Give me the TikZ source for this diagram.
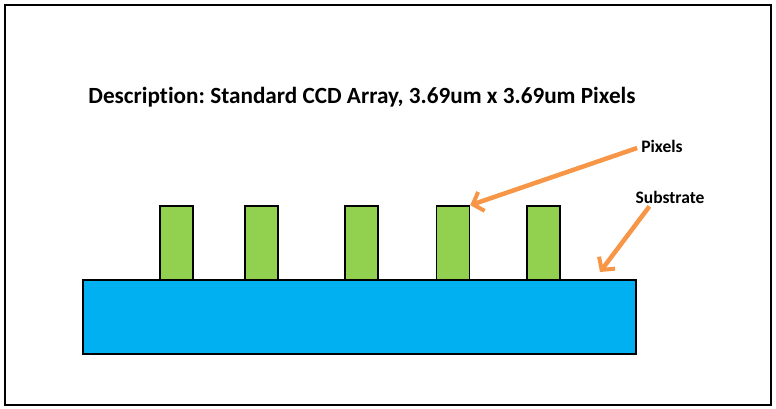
\documentclass[tikz,border=0pt]{standalone}
\usepackage{fontspec}
\setmainfont[Ligatures={NoCommon}]{Carlito}
\usetikzlibrary{arrows.meta,positioning}
\definecolor{pixgreen}{HTML}{92D050}
\definecolor{subblue}{HTML}{00B0F0}
\definecolor{calloutorange}{HTML}{F79646}
\frenchspacing
\tikzset{
  frame/.style={draw=black, line width=2.5pt},
  pixel/.style={rectangle, draw=black, fill=pixgreen, line width=1.6pt, minimum width=33pt, minimum height=74pt, inner sep=0pt},
  substrate/.style={rectangle, draw=black, fill=subblue, line width=1.6pt, minimum width=553pt, minimum height=74pt, inner sep=0pt},
  title/.style={font=\bfseries\fontsize{23.2}{28}\selectfont, inner sep=0pt},
  callout/.style={font=\bfseries\fontsize{17.5}{21}\selectfont, inner sep=0pt},
  calloutarrow/.style={-{Straight Barb[length=9pt, width=20pt, line width=4pt]}, calloutorange, line width=4.5pt}
}
\begin{document}
\begin{tikzpicture}[x=1pt, y=-1pt]
  \useasboundingbox (0,0) rectangle (776,409);
  \draw[frame] (5,5) rectangle (771,405);
  \node[title] (desc) at (362,97) {Description: Standard CCD Array, 3.69um x 3.69um Pixels};
  \node[substrate] (sub) at (359.5,317) {};
  \node[pixel] (px1) at (176.5,243) {};
  \node[pixel] (px2) at (261.5,243) {};
  \node[pixel] (px3) at (361.5,243) {};
  \node[pixel] (px4) at (453,243) {};
  \node[pixel] (px5) at (543.5,243) {};
  \node[callout] (pixlbl) at (662,146) {Pixels};
  \node[callout] (sublbl) at (670,197) {Substrate};
  \coordinate (subtip) at (600,272);
  \draw[calloutarrow] (pixlbl.west) ++(-4,2) -- (px4.north east);
  \draw[calloutarrow] (sublbl.south west) ++(14,3) -- (subtip);
\end{tikzpicture}
\end{document}
